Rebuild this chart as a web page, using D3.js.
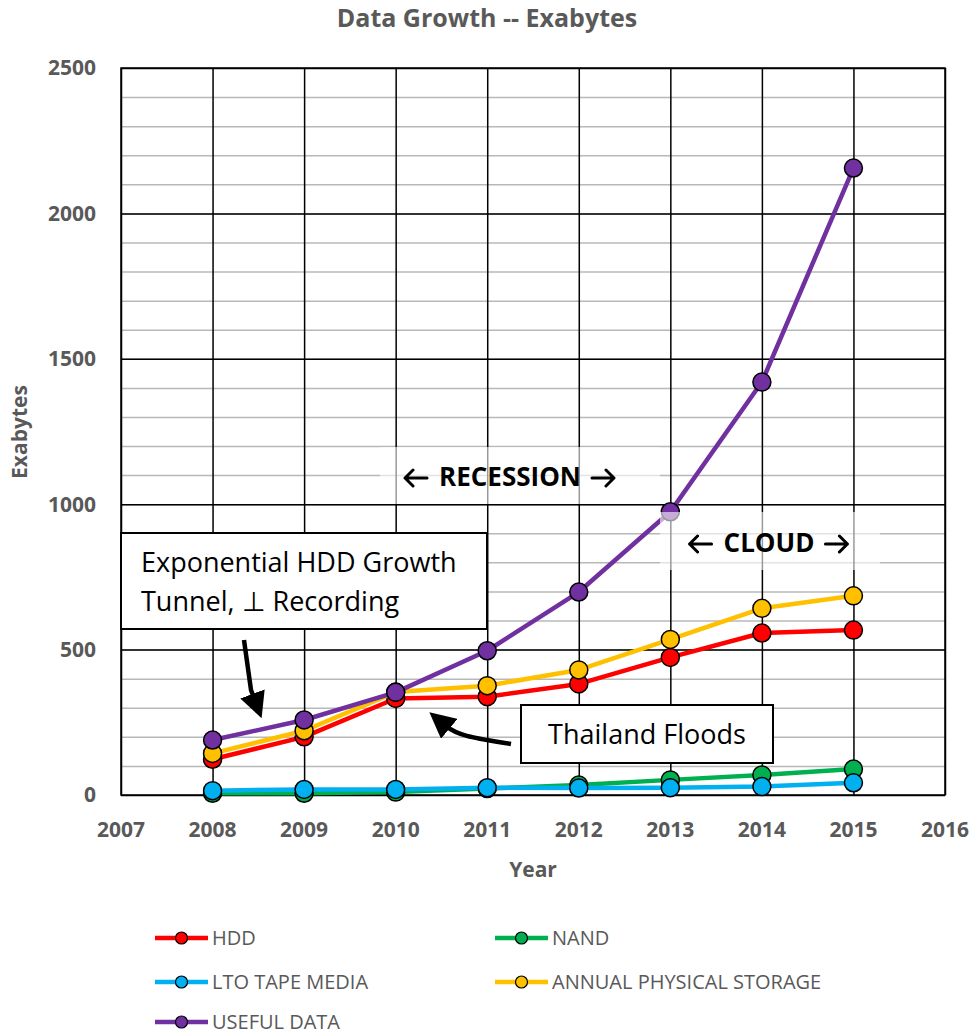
<!DOCTYPE html>
<html>
<head>
<meta charset="utf-8">
<script src="https://cdn.jsdelivr.net/npm/d3@7"></script>
<style>
  body { margin: 0; background: #fff; }
  svg { display: block; font-family: "Open Sans", "Noto Sans", sans-serif; }
</style>
</head>
<body>
<svg id="chart" width="975" height="1036"></svg>
<script>
"use strict";

const years = [2008, 2009, 2010, 2011, 2012, 2013, 2014, 2015];
const xTicks = [2007, 2008, 2009, 2010, 2011, 2012, 2013, 2014, 2015, 2016];
const yTicks = [0, 500, 1000, 1500, 2000, 2500];

const hdd = [123, 200, 332, 338, 382, 473, 557, 567];
const nand = [6, 6, 10, 22, 34, 52, 69, 89];
const ltoTape = [15, 19, 19, 25, 24, 25, 29, 42];
const annualStorage = [143, 221, 354, 376, 430, 535, 642, 685];
const usefulData = [189, 258, 353, 496, 698, 974, 1420, 2156];

const seriesNames = ["HDD", "NAND", "LTO TAPE MEDIA", "ANNUAL PHYSICAL STORAGE", "USEFUL DATA"];
const seriesValues = [hdd, nand, ltoTape, annualStorage, usefulData];
const seriesColors = ["#ff0000", "#00b050", "#00b0f0", "#ffc000", "#7030a0"];

const series = seriesNames.map((name, i) => ({
    name: name,
    color: seriesColors[i],
    values: years.map((yr, j) => ({ year: yr, value: seriesValues[i][j] }))
}));

const svg = d3.select("#chart");
const gray = "#595959";

const plotLeft = 121, plotRight = 945, plotTop = 68, plotBottom = 795;
const width = plotRight - plotLeft;
const height = plotBottom - plotTop;

const x = d3.scaleLinear().domain([2007, 2016]).range([plotLeft, plotRight]);
const y = d3.scaleLinear().domain([0, 2500]).range([plotBottom, plotTop]);

// minor grid
svg.append("g")
    .attr("transform", `translate(${plotLeft},0)`)
    .call(d3.axisLeft(y).tickValues(d3.range(100, 2500, 100)).tickSize(-width).tickFormat(""))
    .call(g => g.select(".domain").remove())
    .selectAll("line").attr("stroke", "#b8b8b8").attr("stroke-width", 1.5);

// major grid
svg.append("g")
    .attr("transform", `translate(${plotLeft},0)`)
    .call(d3.axisLeft(y).tickValues(yTicks).tickSize(-width).tickFormat(""))
    .call(g => g.select(".domain").remove())
    .selectAll("line").attr("stroke", "#000").attr("stroke-width", 1.5);

svg.append("g")
    .attr("transform", `translate(0,${plotBottom})`)
    .call(d3.axisBottom(x).tickValues(xTicks).tickSize(-height).tickFormat(""))
    .call(g => g.select(".domain").remove())
    .selectAll("line").attr("stroke", "#000").attr("stroke-width", 1.5);

svg.append("rect")
    .attr("x", plotLeft).attr("y", plotTop)
    .attr("width", width).attr("height", height)
    .attr("fill", "none").attr("stroke", "#000").attr("stroke-width", 1.5);

// tick labels
svg.append("g").selectAll("text").data(yTicks).join("text")
    .attr("x", 96).attr("y", d => y(d))
    .attr("dy", "0.35em")
    .attr("text-anchor", "end")
    .attr("fill", gray).attr("font-weight", "bold").attr("font-size", 21)
    .text(d => d);

svg.append("g").selectAll("text").data(xTicks).join("text")
    .attr("x", d => x(d)).attr("y", 830)
    .attr("dy", "0.35em")
    .attr("text-anchor", "middle")
    .attr("fill", gray).attr("font-weight", "bold").attr("font-size", 21)
    .text(d => d);

svg.append("text")
    .attr("x", (plotLeft + plotRight) / 2).attr("y", 870).attr("dy", "0.35em")
    .attr("text-anchor", "middle")
    .attr("fill", gray).attr("font-weight", "bold").attr("font-size", 21)
    .text("Year");

svg.append("text")
    .attr("transform", "translate(20,432) rotate(-90)")
    .attr("dy", "0.35em")
    .attr("text-anchor", "middle")
    .attr("fill", gray).attr("font-weight", "bold").attr("font-size", 21)
    .text("Exabytes");

svg.append("text")
    .attr("x", 487).attr("y", 18).attr("dy", "0.35em")
    .attr("text-anchor", "middle")
    .attr("fill", gray).attr("font-weight", "bold").attr("font-size", 25)
    .text("Data Growth -- Exabytes");

// series
const line = d3.line().x(d => x(d.year)).y(d => y(d.value));

const groups = svg.append("g").selectAll("g").data(series).join("g");

groups.append("path")
    .attr("d", d => line(d.values))
    .attr("fill", "none")
    .attr("stroke", d => d.color)
    .attr("stroke-width", 4.5)
    .attr("stroke-linejoin", "round");

groups.selectAll("circle")
    .data(d => d.values.map(v => ({ ...v, color: d.color })))
    .join("circle")
    .attr("cx", d => x(d.year))
    .attr("cy", d => y(d.value))
    .attr("r", 9)
    .attr("fill", d => d.color)
    .attr("stroke", "#000")
    .attr("stroke-width", 1.5);

// annotations
const defs = svg.append("defs");
defs.append("marker")
    .attr("id", "head")
    .attr("markerUnits", "userSpaceOnUse")
    .attr("viewBox", "0 0 24 24")
    .attr("refX", 4).attr("refY", 12)
    .attr("markerWidth", 26).attr("markerHeight", 26)
    .attr("orient", "auto")
    .append("path")
    .attr("d", "M0,0 L24,12 L0,24 Z")
    .attr("fill", "#000");

// "<- WORD ->" labels, arrows drawn as strokes
function arrowLabel(cx, cy, word) {
    const t = svg.append("text")
        .attr("x", cx).attr("y", cy).attr("dy", "0.35em")
        .attr("text-anchor", "middle")
        .attr("font-weight", "bold").attr("font-size", 26).attr("fill", "#000")
        .text(word);
    const w = t.node().getComputedTextLength();
    const l1 = cx - w / 2 - 12, l0 = l1 - 22;
    const r0 = cx + w / 2 + 11, r1 = r0 + 22;
    const ay = cy + 1;
    svg.append("path")
        .attr("d", `M${l1},${ay} L${l0},${ay} M${l0 + 8},${ay - 8} L${l0},${ay} L${l0 + 8},${ay + 8}` +
                   ` M${r0},${ay} L${r1},${ay} M${r1 - 8},${ay - 8} L${r1},${ay} L${r1 - 8},${ay + 8}`)
        .attr("fill", "none").attr("stroke", "#000").attr("stroke-width", 3)
        .attr("stroke-linecap", "round").attr("stroke-linejoin", "round");
}

// semi-transparent label boxes
svg.append("rect")
    .attr("x", 380).attr("y", 447).attr("width", 280).attr("height", 57)
    .attr("fill", "#fff").attr("fill-opacity", 0.6);
arrowLabel(510, 477, "RECESSION");

svg.append("rect")
    .attr("x", 660).attr("y", 512).attr("width", 220).attr("height", 58)
    .attr("fill", "#fff").attr("fill-opacity", 0.6);
arrowLabel(769, 543, "CLOUD");

// text boxes
svg.append("rect")
    .attr("x", 121).attr("y", 533).attr("width", 366).attr("height", 96)
    .attr("fill", "#fff").attr("stroke", "#000").attr("stroke-width", 2);
const expText = svg.append("text")
    .attr("font-size", 27).attr("fill", "#000");
expText.append("tspan").attr("x", 141).attr("y", 572).text("Exponential HDD Growth");
expText.append("tspan").attr("x", 141).attr("y", 611).text("Tunnel, \u22A5 Recording");

svg.append("rect")
    .attr("x", 521).attr("y", 705).attr("width", 252).attr("height", 58)
    .attr("fill", "#fff").attr("stroke", "#000").attr("stroke-width", 2);
svg.append("text")
    .attr("x", 647).attr("y", 735).attr("dy", "0.35em")
    .attr("text-anchor", "middle")
    .attr("font-size", 27).attr("fill", "#000")
    .text("Thailand Floods");

svg.append("path")
    .attr("d", "M244,640 L251,690 L254,698")
    .attr("fill", "none").attr("stroke", "#000").attr("stroke-width", 4.5)
    .attr("marker-end", "url(#head)");

svg.append("path")
    .attr("d", "M511,744 C475,738 458,736 446,726")
    .attr("fill", "none").attr("stroke", "#000").attr("stroke-width", 4.5)
    .attr("marker-end", "url(#head)");

// legend
const legendPos = [[155, 938], [495, 938], [155, 982], [495, 982], [155, 1022]];
const legend = svg.append("g").selectAll("g").data(series).join("g")
    .attr("transform", (d, i) => `translate(${legendPos[i][0]},${legendPos[i][1]})`);

legend.append("line")
    .attr("x1", 0).attr("x2", 53)
    .attr("stroke", d => d.color).attr("stroke-width", 4.5);
legend.append("circle")
    .attr("cx", 26.5).attr("r", 6)
    .attr("fill", d => d.color).attr("stroke", "#000").attr("stroke-width", 1.2);
legend.append("text")
    .attr("x", 57).attr("dy", "0.35em")
    .attr("font-size", 20).attr("fill", gray)
    .text(d => d.name);
</script>
</body>
</html>
